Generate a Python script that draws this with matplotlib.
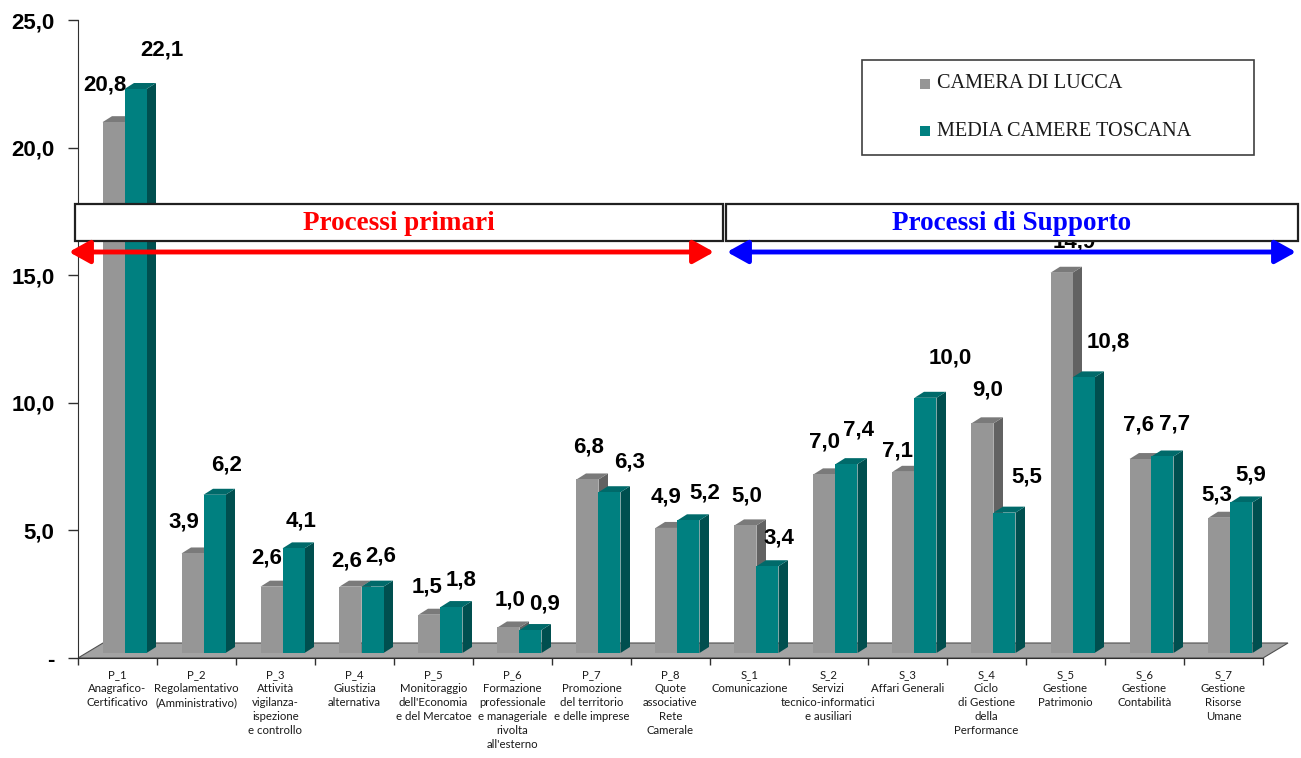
import matplotlib
matplotlib.use("Agg")
import matplotlib.pyplot as plt
from matplotlib.patches import Polygon, Rectangle, FancyArrowPatch

# ---- data ----
codes = ["P_1", "P_2", "P_3", "P_4", "P_5", "P_6", "P_7", "P_8",
         "S_1", "S_2", "S_3", "S_4", "S_5", "S_6", "S_7"]
names = ["Anagrafico-\nCertificativo",
         "Regolamentativo\n(Amministrativo)",
         "Attività\nvigilanza-\nispezione\ne controllo",
         "Giustizia\nalternativa",
         "Monitoraggio\ndell'Economia\ne del Mercatoe",
         "Formazione\nprofessionale\ne manageriale\nrivolta\nall'esterno",
         "Promozione\ndel territorio\ne delle imprese",
         "Quote\nassociative\nRete\nCamerale",
         "Comunicazione",
         "Servizi\ntecnico-informatici\ne ausiliari",
         "Affari Generali",
         "Ciclo\ndi Gestione\ndella\nPerformance",
         "Gestione\nPatrimonio",
         "Gestione\nContabilità",
         "Gestione\nRisorse\nUmane"]
lucca = [20.8, 3.9, 2.6, 2.6, 1.5, 1.0, 6.8, 4.9, 5.0, 7.0, 7.1, 9.0, 14.9, 7.6, 5.3]
toscana = [22.1, 6.2, 4.1, 2.6, 1.8, 0.9, 6.3, 5.2, 3.4, 7.4, 10.0, 5.5, 10.8, 7.7, 5.9]
series_names = ["CAMERA DI LUCCA", "MEDIA CAMERE TOSCANA"]
yticks = [0, 5, 10, 15, 20, 25]
ytick_labels = ["-", "5,0", "10,0", "15,0", "20,0", "25,0"]

# label nudges in pixels (dx, dy) relative to the top centre of each bar
lucca_lab_off = [(-9, 37), (-9, 31), (-5, 29), (-4, 26), (-2, 28), (2, 27),
                 (1, 32), (0, 31), (1, 29), (0, 32), (-6, 21), (5, 33),
                 (13, 31), (-2, 34), (-3, 23)]
toscana_lab_off = [(26, 39), (12, 30), (8, 27), (8, 31), (10, 27), (14, 26),
                   (20, 30), (16, 27), (11, 28), (12, 34), (25, 40), (22, 36),
                   (25, 35), (12, 32), (9, 27)]

# ---- styling ----
W, H = 1301, 758
GRAY = ("#969696", "#7a7a7a", "#626262")     # front, top, side
TEAL = ("#008080", "#006a6a", "#004f4f")
FLOOR = "#a3a3a3"

fig = plt.figure(figsize=(W / 100, H / 100), dpi=100)

# axes geometry (pixel based)
ax_left_px, ax_right_px = 78, W
ax_top_px, ax_bot_px = 20, 658
px_per_cat = 79.0
xmin = -0.5
xmax = xmin + (ax_right_px - ax_left_px) / px_per_cat
ax = fig.add_axes([ax_left_px / W, 1 - ax_bot_px / H,
                   (ax_right_px - ax_left_px) / W, (ax_bot_px - ax_top_px) / H])
ax.set_xlim(xmin, xmax)
ax.set_ylim(0, 25)
px_per_unit = (ax_bot_px - ax_top_px) / 25.0


def cx(px):
    return px / px_per_cat


def cy(px):
    return px / px_per_unit


n = len(codes)

# floor of the 3D plot
fdx, fdy = cx(25), cy(15)
floor = Polygon([(-0.5, 0), (n - 0.5, 0), (n - 0.5 + fdx, fdy), (-0.5 + fdx, fdy)],
                closed=True, facecolor=FLOOR, edgecolor="#505050", lw=0.8, zorder=1)
ax.add_patch(floor)

# 3D bars
base = cy(5)
bw = cx(22)
ddx, ddy = cx(9.5), cy(6)


def bar3d(x0, v, cols, z):
    front, top, side = cols
    y1 = base + v
    ax.add_patch(Polygon([(x0 + bw, base), (x0 + bw + ddx, base + ddy),
                          (x0 + bw + ddx, y1 + ddy), (x0 + bw, y1)],
                         closed=True, facecolor=side, edgecolor="none", zorder=z))
    ax.add_patch(Polygon([(x0, y1), (x0 + ddx, y1 + ddy), (x0 + bw + ddx, y1 + ddy),
                          (x0 + bw, y1)],
                         closed=True, facecolor=top, edgecolor="none", zorder=z))
    ax.add_patch(Rectangle((x0, base), bw, v, facecolor=front, edgecolor="none", zorder=z))


lab_font = dict(fontsize=16, fontweight="bold", family="Liberation Sans",
                ha="center", va="center", zorder=6)
for i in range(n):
    xg = i - cx(15)
    xt = i + cx(7)
    bar3d(xg, lucca[i], GRAY, 3)
    bar3d(xt, toscana[i], TEAL, 4)
    gdx, gdy = lucca_lab_off[i]
    tdx, tdy = toscana_lab_off[i]
    ax.text(xg + bw / 2 + cx(gdx), base + lucca[i] + cy(gdy),
            f"{lucca[i]:.1f}".replace(".", ","), **lab_font)
    ax.text(xt + bw / 2 + cx(tdx), base + toscana[i] + cy(tdy),
            f"{toscana[i]:.1f}".replace(".", ","), **lab_font)

# axes lines and ticks
for s in ("top", "right"):
    ax.spines[s].set_visible(False)
ax.spines["left"].set_color("#303030")
ax.spines["bottom"].set_color("#303030")
ax.spines["bottom"].set_bounds(-0.5, n - 0.5)
ax.set_yticks(yticks)
ax.set_yticklabels(ytick_labels, fontsize=16, fontweight="bold", family="Liberation Sans")
ax.tick_params(axis="y", length=7, width=1, color="#303030", pad=10)
ax.set_xticks([i - 0.5 for i in range(n + 1)])
ax.set_xticklabels([])
ax.tick_params(axis="x", which="major", length=5, width=1, color="#303030")
ax.set_xticks(range(n), minor=True)
ax.set_xticklabels([c + "\n" + nm for c, nm in zip(codes, names)], minor=True,
                   fontsize=8.2, family="Lato", color="#1a1a1a", linespacing=1.32,
                   va="top")
ax.tick_params(axis="x", which="minor", length=0, pad=8)


def fx(px):
    return px / W


def fy(py):
    return 1 - py / H


# legend box
fig.patches.append(Rectangle((fx(862), fy(155)), fx(1254) - fx(862), fy(60) - fy(155),
                             transform=fig.transFigure, facecolor="white",
                             edgecolor="#404040", lw=1.2, zorder=10))
for name, col, ypx in zip(series_names, (GRAY[0], TEAL[0]), (84, 131)):
    fig.patches.append(Rectangle((fx(920), fy(ypx + 5)), fx(10), 10 / H,
                                 transform=fig.transFigure, facecolor=col,
                                 edgecolor="none", zorder=11))
    fig.text(fx(937), fy(ypx), name, fontsize=14.6, family="Liberation Serif",
             va="center", ha="left", color="#1a1a1a", zorder=11)

# process group boxes
groups = [("Processi primari", "#ff0000", 75, 723, 69, 714),
          ("Processi di Supporto", "#0000ff", 726, 1298, 727, 1296)]
for text, col, bx0, bx1, ax0, ax1 in groups:
    fig.patches.append(Rectangle((fx(bx0), fy(241)), fx(bx1) - fx(bx0), fy(204) - fy(241),
                                 transform=fig.transFigure, facecolor="white",
                                 edgecolor="#202020", lw=1.6, zorder=10))
    fig.text(fx((bx0 + bx1) / 2), fy(223), text, fontsize=19.5, fontweight="bold",
             family="Liberation Serif", color=col, ha="center", va="center", zorder=11)
    arr = FancyArrowPatch((fx(ax0), fy(252)), (fx(ax1), fy(252)),
                          transform=fig.transFigure,
                          arrowstyle="<|-|>,head_length=0.9,head_width=0.5",
                          mutation_scale=14, color=col, lw=3.5, shrinkA=0, shrinkB=0,
                          zorder=10)
    fig.patches.append(arr)

fig.savefig("out.png", dpi=100, facecolor="white")
